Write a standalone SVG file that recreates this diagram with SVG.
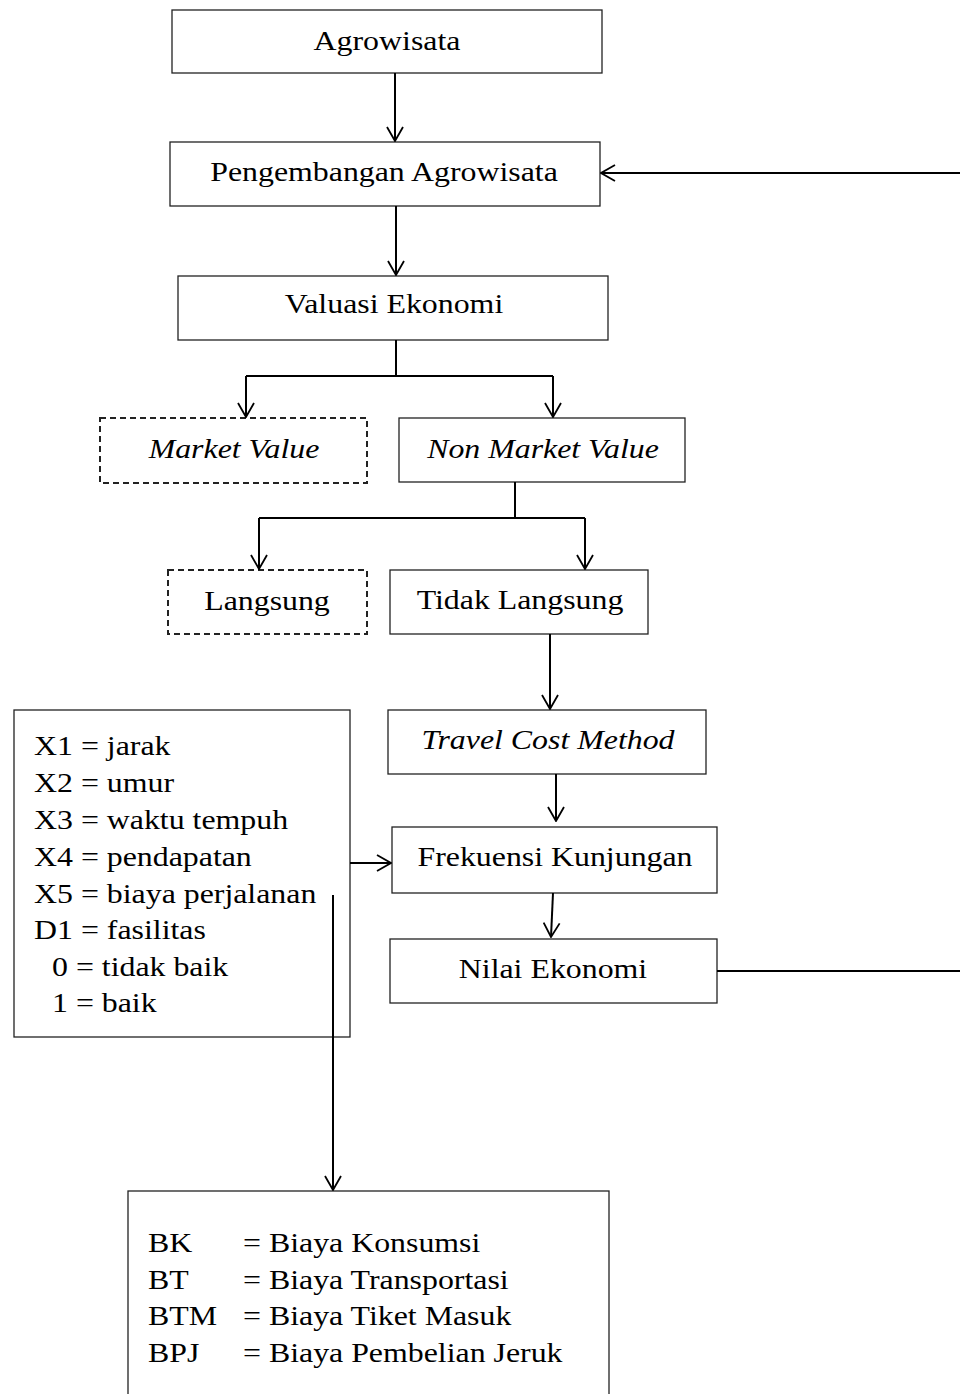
<svg xmlns="http://www.w3.org/2000/svg" width="960" height="1394" viewBox="0 0 960 1394">
<style>
.box{fill:#fff;stroke:#222;stroke-width:1.3}
.dash{fill:#fff;stroke:#222;stroke-width:2;stroke-dasharray:6 4}
.t{font-family:"Liberation Serif","Times New Roman",serif;font-size:27px;fill:#000}
.c{text-anchor:middle}
.i{font-style:italic}
.ln{fill:none;stroke:#000;stroke-width:2}
</style>
<defs>
<marker id="ah" viewBox="0 0 16 18" refX="15" refY="9" markerWidth="16" markerHeight="18" markerUnits="userSpaceOnUse" orient="auto">
<path d="M1,1 L15,9 L1,17" fill="none" stroke="#000" stroke-width="1.8"/>
</marker>
</defs>
<g id="n-agrowisata">
<rect class="box" x="172" y="10" width="430" height="63"/>
<text class="t c" transform="translate(387,50) scale(1.18,1)">Agrowisata</text>
</g>
<g id="n-pengembangan">
<rect class="box" x="170" y="142" width="430" height="64"/>
<text class="t c" transform="translate(384,181) scale(1.18,1)">Pengembangan Agrowisata</text>
</g>
<g id="n-valuasi">
<rect class="box" x="178" y="276" width="430" height="64"/>
<text class="t c" transform="translate(394,313) scale(1.18,1)">Valuasi Ekonomi</text>
</g>
<g id="n-market">
<rect class="dash" x="100" y="418" width="267" height="65"/>
<text class="t c i" transform="translate(234,458) scale(1.18,1)">Market Value</text>
</g>
<g id="n-nonmarket">
<rect class="box" x="399" y="418" width="286" height="64"/>
<text class="t c i" transform="translate(543,458) scale(1.18,1)">Non Market Value</text>
</g>
<g id="n-langsung">
<rect class="dash" x="168" y="570" width="199" height="64"/>
<text class="t c" transform="translate(267,610) scale(1.18,1)">Langsung</text>
</g>
<g id="n-tidaklangsung">
<rect class="box" x="390" y="570" width="258" height="64"/>
<text class="t c" transform="translate(520,609) scale(1.18,1)">Tidak Langsung</text>
</g>
<g id="n-tcm">
<rect class="box" x="388" y="710" width="318" height="64"/>
<text class="t c i" transform="translate(548,749) scale(1.18,1)">Travel Cost Method</text>
</g>
<g id="n-frekuensi">
<rect class="box" x="392" y="827" width="325" height="66"/>
<text class="t c" transform="translate(555,866) scale(1.18,1)">Frekuensi Kunjungan</text>
</g>
<g id="n-nilai">
<rect class="box" x="390" y="939" width="327" height="64"/>
<text class="t c" transform="translate(553,978) scale(1.18,1)">Nilai Ekonomi</text>
</g>
<g id="n-variabel">
<rect class="box" x="14" y="710" width="336" height="327"/>
<text class="t" transform="translate(34,755) scale(1.18,1)">X1 = jarak</text>
<text class="t" transform="translate(34,792) scale(1.18,1)">X2 = umur</text>
<text class="t" transform="translate(34,829) scale(1.18,1)">X3 = waktu tempuh</text>
<text class="t" transform="translate(34,866) scale(1.18,1)">X4 = pendapatan</text>
<text class="t" transform="translate(34,903) scale(1.18,1)">X5 = biaya perjalanan</text>
<text class="t" transform="translate(34,939) scale(1.18,1)">D1 = fasilitas</text>
<text class="t" transform="translate(52,976) scale(1.18,1)">0 = tidak baik</text>
<text class="t" transform="translate(52,1012) scale(1.18,1)">1 = baik</text>
</g>
<g id="n-biaya">
<rect class="box" x="128" y="1191" width="481" height="215"/>
<text class="t" transform="translate(148,1252) scale(1.18,1)">BK</text>
<text class="t" transform="translate(243,1252) scale(1.18,1)">= Biaya Konsumsi</text>
<text class="t" transform="translate(148,1289) scale(1.18,1)">BT</text>
<text class="t" transform="translate(243,1289) scale(1.18,1)">= Biaya Transportasi</text>
<text class="t" transform="translate(148,1325) scale(1.18,1)">BTM</text>
<text class="t" transform="translate(243,1325) scale(1.18,1)">= Biaya Tiket Masuk</text>
<text class="t" transform="translate(148,1362) scale(1.18,1)">BPJ</text>
<text class="t" transform="translate(243,1362) scale(1.18,1)">= Biaya Pembelian Jeruk</text>
</g>
<g id="connectors">
<line class="ln" x1="395" y1="73" x2="395" y2="141" marker-end="url(#ah)"/>
<line class="ln" x1="960" y1="173" x2="601" y2="173" marker-end="url(#ah)"/>
<line class="ln" x1="396" y1="206" x2="396" y2="275" marker-end="url(#ah)"/>
<polyline class="ln" points="396,340 396,376"/>
<polyline class="ln" points="246,376 553,376"/>
<line class="ln" x1="246" y1="376" x2="246" y2="417" marker-end="url(#ah)"/>
<line class="ln" x1="553" y1="376" x2="553" y2="417" marker-end="url(#ah)"/>
<polyline class="ln" points="515,482 515,518"/>
<polyline class="ln" points="259,518 585,518"/>
<line class="ln" x1="259" y1="518" x2="259" y2="569" marker-end="url(#ah)"/>
<line class="ln" x1="585" y1="518" x2="585" y2="569" marker-end="url(#ah)"/>
<line class="ln" x1="550" y1="634" x2="550" y2="709" marker-end="url(#ah)"/>
<line class="ln" x1="556" y1="774" x2="556" y2="821" marker-end="url(#ah)"/>
<line class="ln" x1="553" y1="893" x2="551" y2="937" marker-end="url(#ah)"/>
<line class="ln" x1="717" y1="971" x2="960" y2="971"/>
<line class="ln" x1="350" y1="863" x2="391" y2="863" marker-end="url(#ah)"/>
<line class="ln" x1="333" y1="895" x2="333" y2="1190" marker-end="url(#ah)"/>
</g>
</svg>
